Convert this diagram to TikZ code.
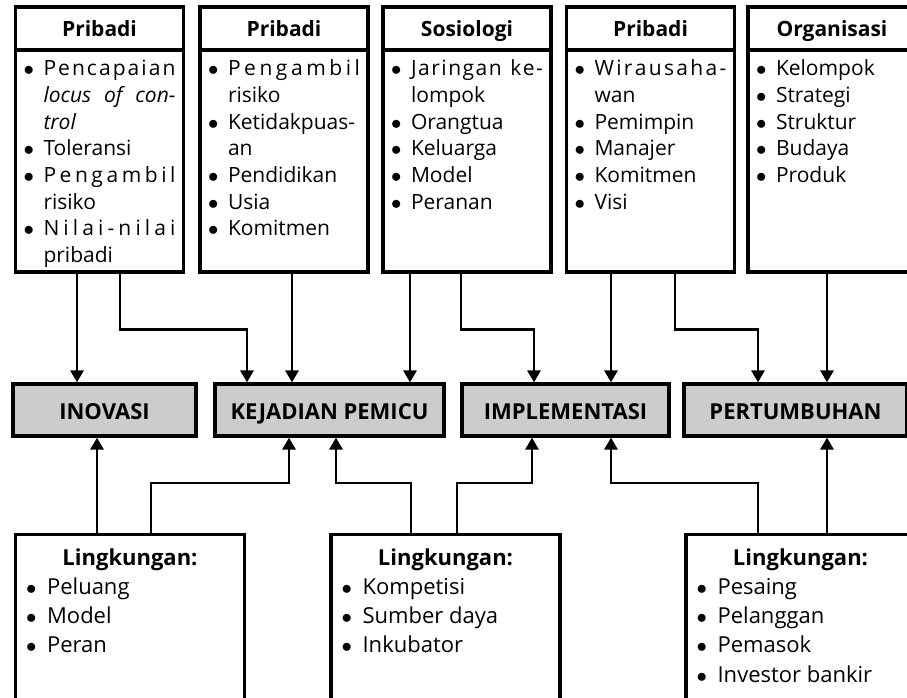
\documentclass[tikz,border=0pt]{standalone}
\usepackage{fontspec}
\setmainfont{Open Sans}
\usepackage{array}
\usepackage{tikz}
\usetikzlibrary{arrows.meta}
\definecolor{ink}{HTML}{000000}
\definecolor{stagegray}{HTML}{CCCCCC}
\newcommand{\bodyfont}{\fontsize{21}{26.7}\selectfont}
\newcommand{\envfont}{\fontsize{22}{29.3}\selectfont}
\newcommand{\headfont}{\fontsize{21}{26}\selectfont\bfseries}
\newcommand{\stagefont}{\fontsize{22}{26}\selectfont\bfseries}
\newcommand{\bul}{$\bullet$}
\makeatletter
\newcommand{\spreadword}[1]{\makebox[\linewidth][s]{\@tfor\ch:=#1\do{\ch\hfil}\unskip}}
\makeatother
\newcommand{\fullline}[1]{\makebox[\linewidth][s]{#1}}
\tikzset{
  frame/.style={draw=ink,line width=3.2pt,minimum width=168pt,minimum height=265pt,inner sep=0pt},
  head/.style={draw=ink,line width=3.2pt,minimum width=168pt,minimum height=43pt,anchor=north,
               inner sep=0pt,text height=16pt,text depth=0pt,font=\headfont},
  list/.style={anchor=north,inner sep=0pt,font=\bodyfont,yshift=-5.3pt},
  stage/.style={draw=ink,fill=stagegray,line width=3.2pt,minimum width=#1,minimum height=52pt,
                inner sep=0pt,text height=18pt,text depth=0pt,font=\stagefont},
  envbox/.style={draw=ink,line width=3.2pt,minimum width=229pt,minimum height=190pt,anchor=north,inner sep=0pt},
  envhead/.style={anchor=base,inner sep=0pt,font=\envfont\bfseries},
  envlist/.style={anchor=north west,inner sep=0pt,font=\envfont},
  flow/.style={-{Triangle[length=12pt,width=13pt]},line width=2.8pt,draw=ink},
}

\begin{document}
\begin{tikzpicture}[x=1pt,y=-1pt]
  \useasboundingbox (0,0) rectangle (907,697);

  % ---------- top row: factors ----------
  \node[frame] (p1) at (99.5,139.5) {};
  \node[head] (p1h) at (p1.north) {Pribadi};
  \node[list] (p1l) at (p1h.south) {\begin{tabular}{@{}p{20pt}@{}p{132pt}@{}}
    \bul & \spreadword{Pencapaian}\\
     & \fullline{\textit{locus of con-}}\\
     & \textit{trol}\\
    \bul & Toleransi\\
    \bul & \spreadword{Pengambil}\\
     & risiko\\
    \bul & \spreadword{Nilai-nilai}\\
     & pribadi
  \end{tabular}};

  \node[frame] (p2) at (284,139.5) {};
  \node[head] (p2h) at (p2.north) {Pribadi};
  \node[list] (p2l) at (p2h.south) {\begin{tabular}{@{}p{20pt}@{}p{132pt}@{}}
    \bul & \spreadword{Pengambil}\\
     & risiko\\
    \bul & Ketidakpuas-\\
     & an\\
    \bul & Pendidikan\\
    \bul & Usia\\
    \bul & Komitmen
  \end{tabular}};

  \node[frame] (s3) at (467,139.5) {};
  \node[head] (s3h) at (s3.north) {Sosiologi};
  \node[list] (s3l) at (s3h.south) {\begin{tabular}{@{}p{20pt}@{}p{132pt}@{}}
    \bul & \spreadword{Jaringan~ke-}\\
     & lompok\\
    \bul & Orangtua\\
    \bul & Keluarga\\
    \bul & Model\\
    \bul & Peranan
  \end{tabular}};

  \node[frame] (p4) at (650.5,139.5) {};
  \node[head] (p4h) at (p4.north) {Pribadi};
  \node[list] (p4l) at (p4h.south) {\begin{tabular}{@{}p{20pt}@{}p{132pt}@{}}
    \bul & \spreadword{Wirausaha-}\\
     & wan\\
    \bul & Pemimpin\\
    \bul & Manajer\\
    \bul & Komitmen\\
    \bul & Visi
  \end{tabular}};

  \node[frame] (o5) at (832,139.5) {};
  \node[head] (o5h) at (o5.north) {Organisasi};
  \node[list] (o5l) at (o5h.south) {\begin{tabular}{@{}p{20pt}@{}p{132pt}@{}}
    \bul & Kelompok\\
    \bul & Strategi\\
    \bul & Struktur\\
    \bul & Budaya\\
    \bul & Produk
  \end{tabular}};

  % ---------- middle row: stages ----------
  \node[stage=183pt] (ino) at (104.5,410) {INOVASI};
  \node[stage=229pt] (kej) at (329.5,410) {KEJADIAN PEMICU};
  \node[stage=207pt] (imp) at (565.5,410) {IMPLEMENTASI};
  \node[stage=223pt] (per) at (795.5,410) {PERTUMBUHAN};

  % ---------- bottom row: environment ----------
  \node[envbox] (l1) at (130,533) {};
  \node[envhead] (l1h) at ([yshift=-32pt]l1.north) {Lingkungan:};
  \node[envlist] (l1l) at ([xshift=12pt,yshift=-40.5pt]l1.north west) {\begin{tabular}{@{}p{21pt}@{}l@{}}
    \bul & Peluang\\
    \bul & Model\\
    \bul & Peran
  \end{tabular}};

  \node[envbox] (l2) at (445.5,533) {};
  \node[envhead] (l2h) at ([yshift=-32pt]l2.north) {Lingkungan:};
  \node[envlist] (l2l) at ([xshift=12pt,yshift=-40.5pt]l2.north west) {\begin{tabular}{@{}p{21pt}@{}l@{}}
    \bul & Kompetisi\\
    \bul & Sumber daya\\
    \bul & Inkubator
  \end{tabular}};

  \node[envbox] (l3) at (800.5,533) {};
  \node[envhead] (l3h) at ([yshift=-32pt]l3.north) {Lingkungan:};
  \node[envlist] (l3l) at ([xshift=12pt,yshift=-40.5pt]l3.north west) {\begin{tabular}{@{}p{21pt}@{}l@{}}
    \bul & Pesaing\\
    \bul & Pelanggan\\
    \bul & Pemasok\\
    \bul & Investor bankir
  \end{tabular}};

  % ---------- connectors: factors -> stages ----------
  \draw[flow] ([xshift=-22.5pt]p1.south) coordinate (c1) -- (c1 |- ino.north);
  \draw[flow] ([xshift=20.5pt]p1.south) -- ++(0,56) -| ([xshift=-82.5pt]kej.north);
  \draw[flow] ([xshift=8pt]p2.south) coordinate (c3) -- (c3 |- kej.north);
  \draw[flow] ([xshift=-57pt]s3.south) coordinate (c4) -- (c4 |- kej.north);
  \draw[flow] ([xshift=-6pt]s3.south) -- ++(0,56) -| ([xshift=-31.5pt]imp.north);
  \draw[flow] ([xshift=-39.5pt]p4.south) coordinate (c6) -- (c6 |- imp.north);
  \draw[flow] ([xshift=24.5pt]p4.south) -- ++(0,56) -| ([xshift=-37.5pt]per.north);
  \draw[flow] ([xshift=-5pt]o5.south) coordinate (c8) -- (c8 |- per.north);

  % ---------- connectors: environment -> stages ----------
  \draw[flow] ([xshift=-33pt]l1.north) coordinate (d1) -- (d1 |- ino.south);
  \draw[flow] ([xshift=21pt]l1.north) -- ++(0,-50) -| ([xshift=-40.5pt]kej.south);
  \draw[flow] ([xshift=-34.5pt]l2.north) -- ++(0,-50) -| ([xshift=6.5pt]kej.south);
  \draw[flow] ([xshift=11.5pt]l2.north) -- ++(0,-50) -| ([xshift=-33.5pt]imp.south);
  \draw[flow] ([xshift=-42.5pt]l3.north) -- ++(0,-50) -| ([xshift=45.5pt]imp.south);
  \draw[flow] ([xshift=26.5pt]l3.north) coordinate (d6) -- (d6 |- per.south);
\end{tikzpicture}
\end{document}
